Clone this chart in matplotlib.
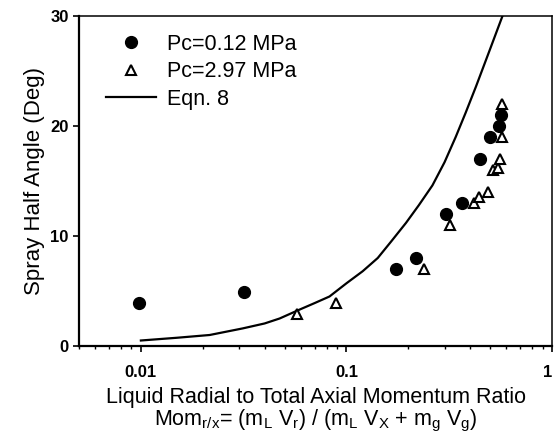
import matplotlib
matplotlib.use("Agg")
import matplotlib.pyplot as plt
from matplotlib.ticker import LogLocator, FixedLocator, NullFormatter, FixedFormatter

plt.rcParams['font.family'] = ['Liberation Sans', 'DejaVu Sans']
plt.rcParams['mathtext.fontset'] = 'custom'
plt.rcParams['mathtext.rm'] = 'Liberation Sans'
plt.rcParams['mathtext.it'] = 'Liberation Sans'
plt.rcParams['mathtext.bf'] = 'Liberation Sans:bold'

# Data
low_x = [0.0098, 0.0316, 0.174, 0.219, 0.305, 0.365, 0.446, 0.50, 0.553, 0.567]
low_y = [3.9, 4.9, 7, 8, 12, 13, 17, 19, 20, 21]

high_x = [0.0577, 0.0885, 0.239, 0.32, 0.418, 0.44, 0.486, 0.519, 0.545, 0.56, 0.574, 0.574]
high_y = [2.9, 3.9, 7, 11, 13, 13.5, 14, 16, 16.2, 17, 19, 22]

eqn_x = [0.01, 0.015, 0.0216, 0.0313, 0.04, 0.0473, 0.059, 0.07, 0.0827, 0.1, 0.12,
         0.142, 0.165, 0.195, 0.225, 0.262, 0.30, 0.34, 0.38, 0.427, 0.5, 0.585]
eqn_y = [0.5, 0.75, 1.0, 1.6, 2.05, 2.5, 3.3, 3.9, 4.5, 5.7, 6.8,
         8.0, 9.5, 11.2, 12.8, 14.6, 16.7, 19.0, 21.2, 23.6, 27.0, 30.4]

x_ticks = [0.01, 0.1, 1]
x_tick_labels = ['0.01', '0.1', '1']
y_ticks = [0, 10, 20, 30]

fig = plt.figure(figsize=(5.55, 4.36), dpi=100)
ax = fig.add_axes([79/555, 1-346/436, (552-79)/555, (346-16)/436])

ax.plot(low_x, low_y, 'o', color='black', markersize=8.5, label='Pc=0.12 MPa', zorder=3)
ax.plot(high_x, high_y, '^', markerfacecolor='white', markeredgecolor='black',
        markeredgewidth=1.5, markersize=7.5, label='Pc=2.97 MPa', zorder=4)
ax.plot(eqn_x, eqn_y, '-', color='black', linewidth=1.6, label='Eqn. 8', zorder=2)

ax.set_xscale('log')
ax.set_xlim(0.005, 1)
ax.set_ylim(0, 30)
ax.xaxis.set_major_locator(FixedLocator(x_ticks))
ax.xaxis.set_major_formatter(FixedFormatter(x_tick_labels))
ax.xaxis.set_minor_locator(LogLocator(base=10, subs=range(2, 10)))
ax.xaxis.set_minor_formatter(NullFormatter())
ax.set_yticks(y_ticks)

ax.tick_params(axis='both', which='major', direction='out', length=4, width=1.2,
               labelsize=12, top=False, right=False)
ax.tick_params(axis='x', which='minor', direction='out', length=2.5, width=1.0, top=False)
ax.tick_params(axis='x', pad=10)
for s in ['left', 'bottom']:
    ax.spines[s].set_linewidth(1.6)
for s in ['top', 'right']:
    ax.spines[s].set_linewidth(1.1)

for lab in ax.get_xticklabels() + ax.get_yticklabels():
    lab.set_fontweight('bold')
# keep the last x tick label inside the figure
ax.get_xticklabels()[-1].set_horizontalalignment('right')

ax.set_ylabel('Spray Half Angle (Deg)', fontsize=16, labelpad=4)
ax.set_xlabel('Liquid Radial to Total Axial Momentum Ratio\n'
              r'Mom$_{\mathrm{r/x}}$= (m$_{\mathrm{L}}$ V$_{\mathrm{r}}$) / (m$_{\mathrm{L}}$ V$_{\mathrm{X}}$ + m$_{\mathrm{g}}$ V$_{\mathrm{g}}$)',
              fontsize=15.5, labelpad=5, linespacing=0.98)

ax.legend(loc='upper left', frameon=False, fontsize=15.5, handlelength=2.3,
          handletextpad=0.55, borderaxespad=0.2, labelspacing=0.3,
          bbox_to_anchor=(0.03, 0.985))

fig.savefig('out.png', dpi=100)
